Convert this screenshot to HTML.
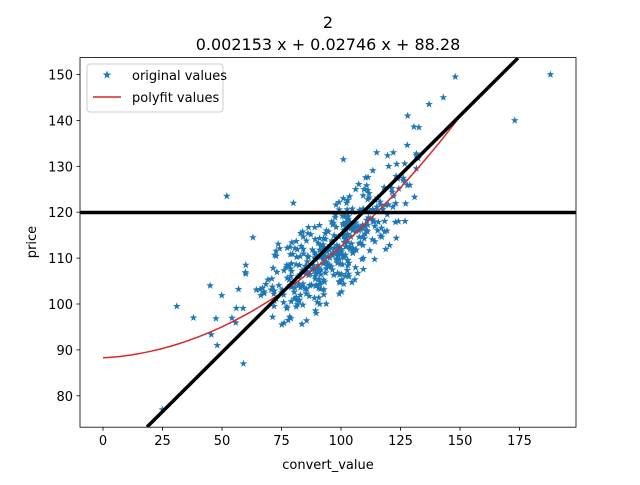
<!DOCTYPE html>
<html><head><meta charset="utf-8"><style>
body{margin:0;background:#fff}
text{font-family:"DejaVu Sans","Liberation Sans",sans-serif;fill:#000}
</style></head><body>
<svg id="s" width="640" height="480" viewBox="0 0 640 480" xmlns="http://www.w3.org/2000/svg">
<rect width="640" height="480" fill="#fff"/>
<g id="pts"></g>
<polyline id="fit" fill="none" stroke="#d62728" stroke-width="1.5"/>
<line x1="80" y1="212.5" x2="576" y2="212.5" stroke="#000" stroke-width="3.5"/>
<line x1="147" y1="427" x2="518" y2="58" stroke="#000" stroke-width="3.5"/>
<rect x="0" y="0" width="80" height="480" fill="#fff"/>
<rect x="576" y="0" width="64" height="480" fill="#fff"/>
<rect x="0" y="0" width="640" height="57.6" fill="#fff"/>
<rect x="0" y="427.2" width="640" height="53" fill="#fff"/>
<rect x="80" y="57.6" width="496" height="369.6" fill="none" stroke="#000" stroke-width="0.8"/>
<g id="ax" font-size="13" stroke="#000" stroke-width="0.8"></g>
<text x="328" y="28" font-size="16" text-anchor="middle">2</text>
<text x="328" y="50" font-size="16" text-anchor="middle">0.002153 x + 0.02746 x + 88.28</text>
<text x="328" y="469" font-size="13" text-anchor="middle">convert_value</text>
<text x="36" y="242" font-size="13" text-anchor="middle" transform="rotate(-90 36 242)">price</text>
<rect x="87" y="64" width="136" height="48" rx="3" fill="#fff" fill-opacity="0.8" stroke="#ccc"/>
<path id="lstar" fill="#1f77b4"/>
<line x1="93" y1="97" x2="121" y2="97" stroke="#d62728" stroke-width="1.5"/>
<text x="132" y="80" font-size="13">original values</text>
<text x="132" y="102" font-size="13">polyfit values</text>
</svg>
<script>
var X=function(v){return 103+v*2.38},Y=function(v){return 304-(v-100)*4.59};
function star(cx,cy,r){var p="";for(var i=0;i<10;i++){var a=-Math.PI/2+i*Math.PI/5,rr=i%2?r*0.4:r;p+=(i?"L":"M")+(cx+rr*Math.cos(a)).toFixed(1)+" "+(cy+rr*Math.sin(a)).toFixed(1);}return p+"Z";}
var seed=7;function rnd(){seed=(seed*16807)%2147483647;return seed/2147483647;}
function gauss(){return Math.sqrt(-2*Math.log(rnd()+1e-9))*Math.cos(2*Math.PI*rnd());}
var d="";
for(var i=0;i<420;i++){var x=96+gauss()*15;if(x<45)x=45+rnd()*10;if(x>135)x=125+rnd()*10;var g=gauss();if(g>2)g=2;if(g<-2)g=-2;var y=88.28+0.02746*x+0.002153*x*x+g*5+(x<80?3:0);d+=star(X(x),Y(y),4);}
[[188,150],[173,140],[148,149.5],[52,123.5],[25,77],[31,99.5],[38,97],[59,87],[143,145],[137,143.5],[128,141],[45,104],[48,91],[60,108.5],[63,114.5],[80,122],[101,131.5],[115,133],[122,133]].forEach(function(p){d+=star(X(p[0]),Y(p[1]),4);});
var pe=document.createElementNS("http://www.w3.org/2000/svg","path");pe.setAttribute("d",d);pe.setAttribute("fill","#1f77b4");document.getElementById("pts").appendChild(pe);
var pl="";for(var x=0;x<=150;x+=2){pl+=X(x).toFixed(1)+","+Y(88.28+0.02746*x+0.002153*x*x).toFixed(1)+" ";}
document.getElementById("fit").setAttribute("points",pl);
document.getElementById("lstar").setAttribute("d",star(107,75,4.5));
var ax=document.getElementById("ax"),h="";
[0,25,50,75,100,125,150,175].forEach(function(v){var x=X(v);h+='<line x1="'+x+'" y1="427.2" x2="'+x+'" y2="430.7"/><text stroke="none" x="'+x+'" y="445" text-anchor="middle">'+v+'</text>';});
[80,90,100,110,120,130,140,150].forEach(function(v){var y=Y(v);h+='<line x1="76.5" y1="'+y+'" x2="80" y2="'+y+'"/><text stroke="none" x="73" y="'+(y+5)+'" text-anchor="end">'+v+'</text>';});
ax.innerHTML=h;
</script>
</body></html>
